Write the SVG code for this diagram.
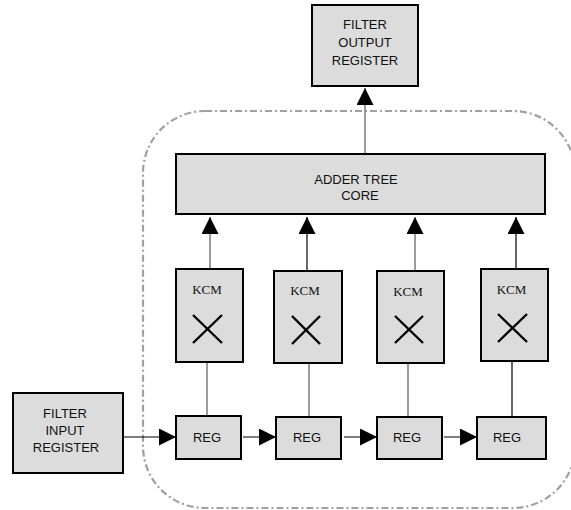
<svg xmlns="http://www.w3.org/2000/svg" width="571" height="510" viewBox="0 0 571 510">
<defs>
<marker id="arr" markerUnits="userSpaceOnUse" markerWidth="18" markerHeight="18" refX="17" refY="8.5" orient="auto">
<path d="M0,0 L17,8.5 L0,17 Z" fill="#000"/>
</marker>
<style>
.box{fill:#dcdcdc;stroke:#000;stroke-width:2}
.t{font-family:"Liberation Sans",Arial,sans-serif;font-size:13px;fill:#111;text-anchor:middle}
.k{font-family:"Liberation Serif","Times New Roman",serif;font-size:13px;fill:#111;text-anchor:middle}
.x{stroke:#000;stroke-width:2.4;stroke-linecap:butt}
.g{stroke:#7a7a7a;stroke-width:1.5;fill:none}
.b{stroke:#000;stroke-width:1.2;fill:none}
.bound{fill:none;stroke:#a0a0a0;stroke-width:2.2;stroke-dasharray:7 3 2 3}
</style>
</defs>
<rect class="bound" x="143" y="111" width="432" height="397" rx="62" ry="62"/>
<g id="connectors">
<line class="g" x1="365" y1="154" x2="365" y2="88" marker-end="url(#arr)"/>
<line class="g" x1="210" y1="269" x2="210" y2="217" marker-end="url(#arr)"/>
<line class="b" x1="307" y1="271" x2="307" y2="217" marker-end="url(#arr)"/>
<line class="g" x1="415" y1="271" x2="415" y2="217" marker-end="url(#arr)"/>
<line class="b" x1="516" y1="269" x2="516" y2="217" marker-end="url(#arr)"/>
<line class="g" x1="207" y1="416" x2="207" y2="362"/>
<line class="g" x1="309" y1="417" x2="309" y2="363"/>
<line class="g" x1="408" y1="417" x2="408" y2="363"/>
<line class="b" x1="512" y1="417" x2="512" y2="361"/>
<line class="b" x1="123" y1="437" x2="176" y2="437" marker-end="url(#arr)"/>
<line class="b" x1="243" y1="437" x2="276" y2="437" marker-end="url(#arr)"/>
<line class="b" x1="344" y1="437" x2="377" y2="437" marker-end="url(#arr)"/>
<line class="b" x1="444" y1="437" x2="477" y2="437" marker-end="url(#arr)"/>
</g>
<g id="output-register">
<rect class="box" x="312" y="5" width="106" height="81"/>
<text class="t" x="365" y="29">FILTER</text>
<text class="t" x="365" y="47">OUTPUT</text>
<text class="t" x="365" y="65">REGISTER</text>
</g>
<g id="adder-tree">
<rect class="box" x="176" y="154" width="369" height="60"/>
<text class="t" x="356" y="184">ADDER TREE</text>
<text class="t" x="360" y="200">CORE</text>
</g>
<g id="kcm1">
<rect class="box" x="176" y="269" width="67" height="93"/>
<text class="k" x="207" y="294">KCM</text>
<line class="x" x1="193" y1="315" x2="222" y2="343"/>
<line class="x" x1="222" y1="315" x2="193" y2="343"/>
</g>
<g id="kcm2">
<rect class="box" x="274" y="271" width="68" height="92"/>
<text class="k" x="305" y="295">KCM</text>
<line class="x" x1="292" y1="316" x2="320" y2="344"/>
<line class="x" x1="320" y1="316" x2="292" y2="344"/>
</g>
<g id="kcm3">
<rect class="box" x="377" y="271" width="67" height="92"/>
<text class="k" x="408" y="296">KCM</text>
<line class="x" x1="395" y1="316" x2="423" y2="343"/>
<line class="x" x1="423" y1="316" x2="395" y2="343"/>
</g>
<g id="kcm4">
<rect class="box" x="481" y="269" width="67" height="92"/>
<text class="k" x="511.5" y="294">KCM</text>
<line class="x" x1="498" y1="314" x2="527" y2="342"/>
<line class="x" x1="527" y1="314" x2="498" y2="342"/>
</g>
<g id="input-register">
<rect class="box" x="13" y="393" width="110" height="80"/>
<text class="t" x="65" y="418">FILTER</text>
<text class="t" x="65" y="435">INPUT</text>
<text class="t" x="66" y="452">REGISTER</text>
</g>
<g id="reg1">
<rect class="box" x="176" y="416" width="65" height="43"/>
<text class="t" x="207" y="442">REG</text>
</g>
<g id="reg2">
<rect class="box" x="276" y="417" width="65" height="42"/>
<text class="t" x="307" y="442">REG</text>
</g>
<g id="reg3">
<rect class="box" x="377" y="417" width="65" height="42"/>
<text class="t" x="407" y="442">REG</text>
</g>
<g id="reg4">
<rect class="box" x="477" y="417" width="69" height="42"/>
<text class="t" x="507" y="442">REG</text>
</g>
</svg>
